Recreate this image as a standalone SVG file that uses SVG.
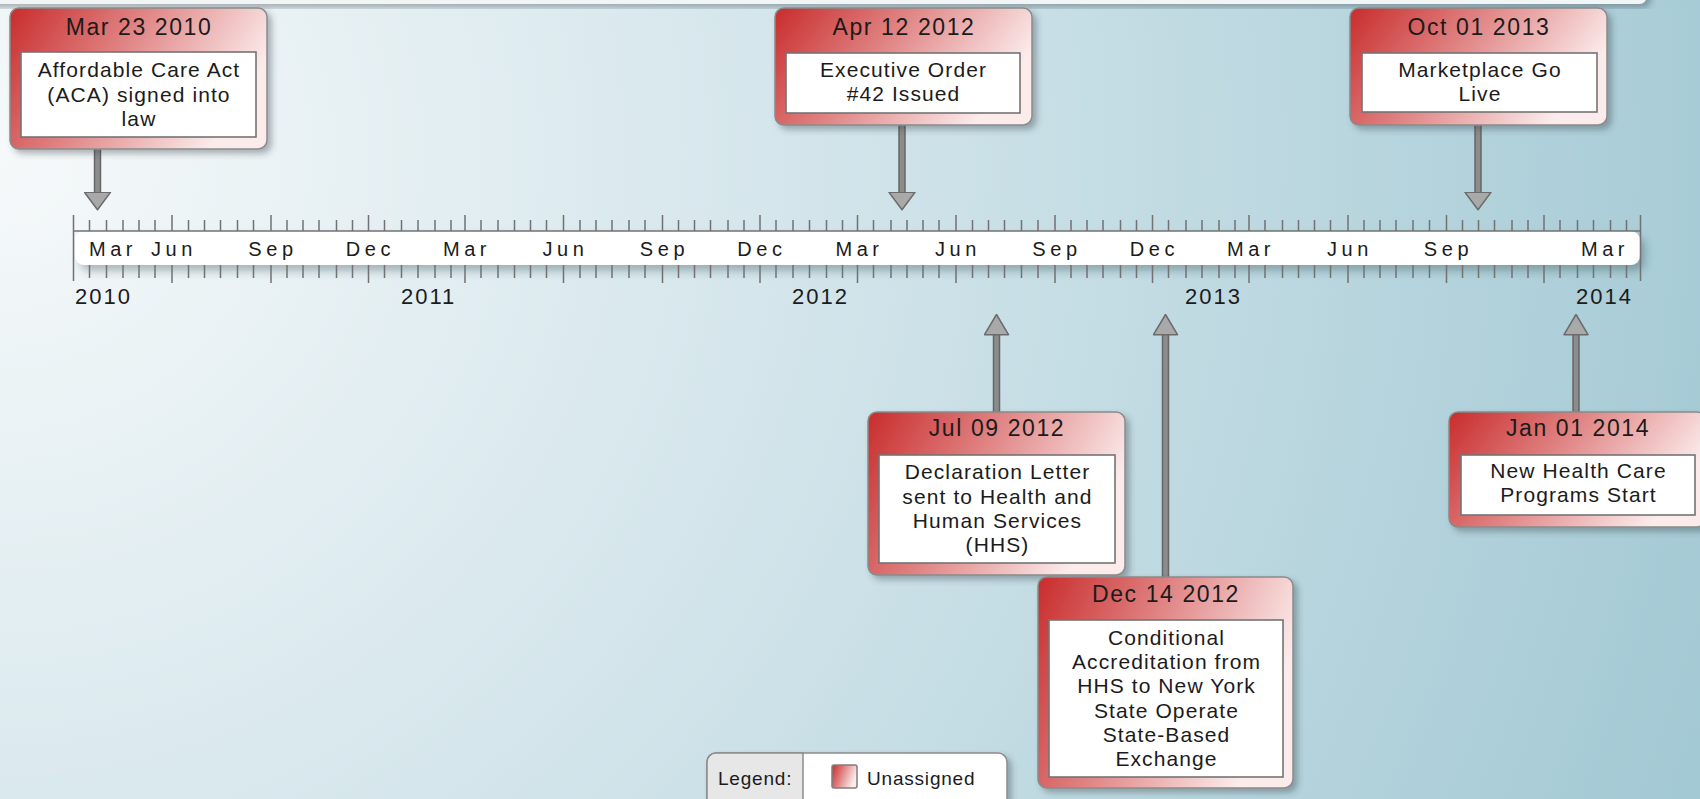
<svg xmlns="http://www.w3.org/2000/svg" width="1700" height="799" viewBox="0 0 1700 799">
  <defs>
    <radialGradient id="bg" cx="0" cy="150" r="1800" gradientUnits="userSpaceOnUse">
      <stop offset="0" stop-color="#f6f9fa"/>
      <stop offset="0.45" stop-color="#d3e5eb"/>
      <stop offset="1" stop-color="#a3c9d4"/>
    </radialGradient>
    <linearGradient id="evt" x1="0" y1="0" x2="1" y2="0.35">
      <stop offset="0" stop-color="#c92c2c"/>
      <stop offset="0.45" stop-color="#df7f7f"/>
      <stop offset="1" stop-color="#fbebeb"/>
    </linearGradient>
    <filter id="shadow" x="-10%" y="-10%" width="130%" height="130%">
      <feDropShadow dx="4" dy="4" stdDeviation="3" flood-color="#2f4248" flood-opacity="0.38"/>
    </filter>
    <filter id="barShadow" x="-5%" y="-40%" width="110%" height="200%">
      <feDropShadow dx="5" dy="6" stdDeviation="4" flood-color="#2f4248" flood-opacity="0.35"/>
    </filter>
    <marker id="headDown" markerUnits="userSpaceOnUse" viewBox="0 0 19 28" refX="0.5" refY="14" markerWidth="19" markerHeight="28" orient="auto">
      <path d="M0.8,1 L18.2,14 L0.8,27 Z" fill="#a9a9a9" stroke="#6b6b6b" stroke-width="1.5" stroke-linejoin="round"/>
    </marker>
    <marker id="headUp" markerUnits="userSpaceOnUse" viewBox="0 0 22 26" refX="0.5" refY="13" markerWidth="22" markerHeight="26" orient="auto">
      <path d="M0.8,1 L21,13 L0.8,25 Z" fill="#a9a9a9" stroke="#6b6b6b" stroke-width="1.5" stroke-linejoin="round"/>
    </marker>
    <style>
      text { font-family: "Liberation Sans", Arial, sans-serif; fill: #1b1b1b; }
      .box { fill: url(#evt); stroke: #8a8a8a; stroke-width: 1.5; filter: url(#shadow); }
      .inner { fill: #ffffff; stroke: #747474; stroke-width: 1.6; }
      .hdr { font-size: 23px; letter-spacing: 1.6px; text-anchor: middle; }
      .body { font-size: 21px; letter-spacing: 1.1px; text-anchor: middle; }
      .mon { font-size: 20px; letter-spacing: 4.6px; text-anchor: middle; }
      .yr { font-size: 22px; letter-spacing: 2px; }
      .tick { stroke: #727272; stroke-width: 1.5; fill: none; }
      .stemOut { stroke: #666666; stroke-width: 7.5; fill: none; }
      .stem { stroke: #8c8c8c; stroke-width: 4.5; fill: none; }
      .leg { font-size: 19px; letter-spacing: 0.8px; }
    </style>
  </defs>

  <!-- backdrop -->
  <rect x="0" y="0" width="1700" height="799" fill="url(#bg)"/>
  <rect x="-20" y="-20" width="1667" height="24" rx="8" fill="#f2f5f6" filter="url(#shadow)"/>

  <!-- time axis -->
  <g id="axis">
    <rect x="75" y="231" width="1565" height="34" rx="9" fill="#ffffff" filter="url(#barShadow)"/>
    <path class="tick" d="M73.5,231 H1640.5"/>
    <path class="tick" d="M73.5,215 V281 M1640.5,215 V281"/>
    <!-- quarter ticks -->
    <path class="tick" d="M172,215V231M271,215V231M368.5,215V231M465,215V231M563.5,215V231M662.5,215V231M760,215V231M857.5,215V231M956,215V231M1055,215V231M1152.5,215V231M1249,215V231M1348,215V231M1446.5,215V231M1544,215V231
      M172,265V283M271,265V283M368.5,265V283M465,265V283M563.5,265V283M662.5,265V283M760,265V283M857.5,265V283M956,265V283M1055,265V283M1152.5,265V283M1249,265V283M1348,265V283M1446.5,265V283M1544,265V283"/>
    <!-- half-month ticks above the bar -->
    <path class="tick" d="M89.5,220V231M106.5,220V231M123,220V231M139,220V231M155,220V231M188.5,220V231M204.5,220V231M220.5,220V231M237.5,220V231M253.5,220V231M287,220V231M303,220V231M319,220V231M336.5,220V231M352.5,220V231M384.5,220V231M401.5,220V231M418,220V231M435,220V231M451,220V231M481,220V231M498,220V231M514.5,220V231M530.5,220V231M546.5,220V231M580,220V231M596,220V231M612,220V231M629,220V231M645,220V231M678.5,220V231M694.5,220V231M710.5,220V231M728,220V231M744,220V231M776,220V231M793,220V231M809.5,220V231M826.5,220V231M842.5,220V231M873.5,220V231M891,220V231M907,220V231M923,220V231M939,220V231M972.5,220V231M988.5,220V231M1004.5,220V231M1021.5,220V231M1038,220V231M1071,220V231M1087,220V231M1103,220V231M1120.5,220V231M1136.5,220V231M1168.5,220V231M1186,220V231M1202,220V231M1219,220V231M1235,220V231M1265,220V231M1282.5,220V231M1298.5,220V231M1314.5,220V231M1330.5,220V231M1364,220V231M1380,220V231M1396,220V231M1413,220V231M1429.5,220V231M1462.5,220V231M1478.5,220V231M1494.5,220V231M1512,220V231M1528,220V231M1560,220V231M1577.5,220V231M1593.5,220V231M1610.5,220V231M1626.5,220V231"/>
    <!-- half-month ticks below the bar -->
    <path class="tick" d="M89.5,265V278M106.5,265V278M123,265V278M139,265V278M155,265V278M188.5,265V278M204.5,265V278M220.5,265V278M237.5,265V278M253.5,265V278M287,265V278M303,265V278M319,265V278M336.5,265V278M352.5,265V278M384.5,265V278M401.5,265V278M418,265V278M435,265V278M451,265V278M481,265V278M498,265V278M514.5,265V278M530.5,265V278M546.5,265V278M580,265V278M596,265V278M612,265V278M629,265V278M645,265V278M678.5,265V278M694.5,265V278M710.5,265V278M728,265V278M744,265V278M776,265V278M793,265V278M809.5,265V278M826.5,265V278M842.5,265V278M873.5,265V278M891,265V278M907,265V278M923,265V278M939,265V278M972.5,265V278M988.5,265V278M1004.5,265V278M1021.5,265V278M1038,265V278M1071,265V278M1087,265V278M1103,265V278M1120.5,265V278M1136.5,265V278M1168.5,265V278M1186,265V278M1202,265V278M1219,265V278M1235,265V278M1265,265V278M1282.5,265V278M1298.5,265V278M1314.5,265V278M1330.5,265V278M1364,265V278M1380,265V278M1396,265V278M1413,265V278M1429.5,265V278M1462.5,265V278M1478.5,265V278M1494.5,265V278M1512,265V278M1528,265V278M1560,265V278M1577.5,265V278M1593.5,265V278M1610.5,265V278M1626.5,265V278"/>
    <!-- month labels -->
    <text class="mon" x="113" y="256">Mar</text>
    <text class="mon" x="174" y="256">Jun</text>
    <text class="mon" x="273" y="256">Sep</text>
    <text class="mon" x="370.5" y="256">Dec</text>
    <text class="mon" x="467" y="256">Mar</text>
    <text class="mon" x="565.5" y="256">Jun</text>
    <text class="mon" x="664.5" y="256">Sep</text>
    <text class="mon" x="762" y="256">Dec</text>
    <text class="mon" x="859.5" y="256">Mar</text>
    <text class="mon" x="958" y="256">Jun</text>
    <text class="mon" x="1057" y="256">Sep</text>
    <text class="mon" x="1154.5" y="256">Dec</text>
    <text class="mon" x="1251" y="256">Mar</text>
    <text class="mon" x="1350" y="256">Jun</text>
    <text class="mon" x="1448.5" y="256">Sep</text>
    <text class="mon" x="1605" y="256">Mar</text>
    <!-- year labels -->
    <text class="yr" x="75" y="304">2010</text>
    <text class="yr" x="401" y="304">2011</text>
    <text class="yr" x="792" y="304">2012</text>
    <text class="yr" x="1185" y="304">2013</text>
    <text class="yr" x="1576" y="304">2014</text>
  </g>

  <!-- connectors from events to their dates -->
  <g id="connectors">
    <path class="stemOut" d="M97.5,149 V193"/>
    <path class="stem" d="M97.5,149 V192" marker-end="url(#headDown)"/>
    <path class="stemOut" d="M902,125 V193"/>
    <path class="stem" d="M902,125 V192" marker-end="url(#headDown)"/>
    <path class="stemOut" d="M1478,125 V193"/>
    <path class="stem" d="M1478,125 V192" marker-end="url(#headDown)"/>
    <path class="stemOut" d="M996.5,412 V334"/>
    <path class="stem" d="M996.5,412 V335" marker-end="url(#headUp)"/>
    <path class="stemOut" d="M1165.5,577 V334"/>
    <path class="stem" d="M1165.5,577 V335" marker-end="url(#headUp)"/>
    <path class="stemOut" d="M1576,412 V334"/>
    <path class="stem" d="M1576,412 V335" marker-end="url(#headUp)"/>
  </g>

  <!-- events -->
  <g id="evt-2010-03-23">
    <rect class="box" x="10" y="8" width="257" height="141" rx="9"/>
    <text class="hdr" x="139" y="35">Mar 23 2010</text>
    <rect class="inner" x="21" y="52" width="235" height="85"/>
    <text class="body" x="139" y="77">Affordable Care Act</text>
    <text class="body" x="139" y="101.5">(ACA) signed into</text>
    <text class="body" x="139" y="126">law</text>
  </g>

  <g id="evt-2012-04-12">
    <rect class="box" x="775" y="8" width="257" height="117" rx="9"/>
    <text class="hdr" x="904" y="35">Apr 12 2012</text>
    <rect class="inner" x="786" y="53" width="234" height="60"/>
    <text class="body" x="903.5" y="77">Executive Order</text>
    <text class="body" x="903.5" y="101">#42 Issued</text>
  </g>

  <g id="evt-2013-10-01">
    <rect class="box" x="1350" y="8" width="257" height="117" rx="9"/>
    <text class="hdr" x="1479" y="35">Oct 01 2013</text>
    <rect class="inner" x="1362" y="53" width="235" height="59"/>
    <text class="body" x="1480" y="77">Marketplace Go</text>
    <text class="body" x="1480" y="101">Live</text>
  </g>

  <g id="evt-2012-07-09">
    <rect class="box" x="868" y="412" width="257" height="163" rx="9"/>
    <text class="hdr" x="997" y="436">Jul 09 2012</text>
    <rect class="inner" x="879" y="455" width="236" height="108"/>
    <text class="body" x="997.5" y="479">Declaration Letter</text>
    <text class="body" x="997.5" y="503.5">sent to Health and</text>
    <text class="body" x="997.5" y="528">Human Services</text>
    <text class="body" x="997.5" y="552">(HHS)</text>
  </g>

  <g id="evt-2012-12-14">
    <rect class="box" x="1038" y="577" width="255" height="211" rx="9"/>
    <text class="hdr" x="1166" y="602">Dec 14 2012</text>
    <rect class="inner" x="1049" y="620" width="234" height="157"/>
    <text class="body" x="1166.5" y="645">Conditional</text>
    <text class="body" x="1166.5" y="669">Accreditation from</text>
    <text class="body" x="1166.5" y="693">HHS to New York</text>
    <text class="body" x="1166.5" y="717.5">State Operate</text>
    <text class="body" x="1166.5" y="742">State-Based</text>
    <text class="body" x="1166.5" y="766">Exchange</text>
  </g>

  <g id="evt-2014-01-01">
    <rect class="box" x="1449" y="412" width="257" height="115" rx="9"/>
    <text class="hdr" x="1578" y="436">Jan 01 2014</text>
    <rect class="inner" x="1461" y="455" width="234" height="60"/>
    <text class="body" x="1578.5" y="478">New Health Care</text>
    <text class="body" x="1578.5" y="502">Programs Start</text>
  </g>

  <!-- legend -->
  <g id="legend">
    <rect x="707" y="753" width="300" height="62" rx="9" fill="#ffffff" stroke="#8c8c8c" stroke-width="1.5" filter="url(#shadow)"/>
    <path d="M716,753 H803 V815 H716 A9,9 0 0 1 707,806 V762 A9,9 0 0 1 716,753 Z" fill="#e7e7e7" stroke="#8c8c8c" stroke-width="1.5"/>
    <text class="leg" x="718" y="785">Legend:</text>
    <rect x="832" y="765" width="25" height="23" rx="2" fill="url(#evt)" stroke="#7f7f7f" stroke-width="1.5"/>
    <text class="leg" x="867" y="785">Unassigned</text>
  </g>
</svg>
